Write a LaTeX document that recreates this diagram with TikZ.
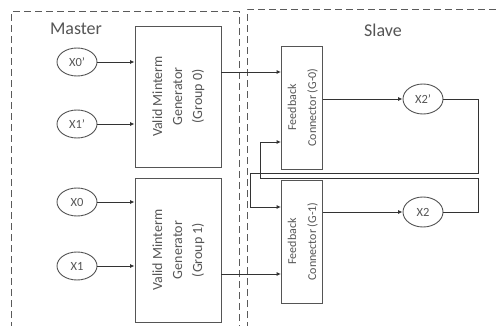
\documentclass[tikz,border=0pt]{standalone}
\usepackage{fontspec}
\setmainfont{Carlito}
\usepackage{graphicx}
\usetikzlibrary{arrows.meta,shapes.geometric}
\definecolor{framegray}{HTML}{5A5A5A}
\definecolor{linegray}{HTML}{333333}
\definecolor{boxgray}{HTML}{555555}
\definecolor{textgray}{HTML}{555555}
% vertical (bottom-to-top) multi-line label
\newcommand\vlabel[2]{\rotatebox{90}{\fontsize{#1}{20}\selectfont\begin{tabular}{@{}c@{}}#2\end{tabular}}}
\begin{document}
\begin{tikzpicture}[x=1pt,y=-1pt,
  frame/.style={draw=framegray,line width=1pt,dash pattern=on 7pt off 4pt},
  blockbox/.style={draw=boxgray,line width=0.9pt,inner sep=0pt,fill=white,text=textgray},
  var/.style={ellipse,draw=boxgray,line width=0.9pt,minimum width=40pt,minimum height=28pt,
              inner sep=0pt,text=textgray,font=\fontsize{12.5}{14}\selectfont},
  conn/.style={draw=linegray,line width=0.9pt,-{Latex[length=4.5pt,width=4pt]}},
  title/.style={text=textgray,font=\fontsize{18}{22}\selectfont}]
\useasboundingbox (0,0) rectangle (498,326);
\fill[white] (0,0) rectangle (498,326);
\clip (0,0) rectangle (498,326);

% dashed partitions
\draw[frame] (11,340) -- (11,12) -- (239,12) -- (239,340);
\draw[frame] (247,340) -- (247,10) -- (510,10);

\node[title] (master) at (76,29) {Master};
\node[title] (slave) at (383,30) {Slave};

% master side
\node[var] (x0p) at (77,62) {X0'};
\node[var] (x1p) at (77,124) {X1'};
\node[var] (x0) at (77,202) {X0};
\node[var] (x1) at (77,266) {X1};

\node[blockbox,minimum width=86pt,minimum height=141pt] (g0) at (178,96.5)
  {\vlabel{14}{Valid Minterm\\Generator\\(Group 0)}};
\node[blockbox,minimum width=86pt,minimum height=144pt] (g1) at (178,250)
  {\vlabel{14}{Valid Minterm\\Generator\\(Group 1)}};

% slave side
\node[blockbox,minimum width=41pt,minimum height=123pt] (fc0) at (302,107.5)
  {\vlabel{12}{Feedback\\Connector (G-0)}};
\node[blockbox,minimum width=41pt,minimum height=123pt] (fc1) at (302,241.5)
  {\vlabel{12}{Feedback\\Connector (G-1)}};

\node[var,minimum height=30pt] (x2p) at (423,99) {X2'};
\node[var,minimum height=30pt] (x2) at (423,212) {X2};

% inputs
\draw[conn] (x0p) -- (x0p -| g0.west);
\draw[conn] (x1p) -- (x1p -| g0.west);
\draw[conn] (x0) -- (x0 -| g1.west);
\draw[conn] (x1) -- (x1 -| g1.west);

% generator outputs
\coordinate (o0) at (230,72);
\coordinate (o1) at (230,274);
\draw[conn] (g0.east |- o0) -- (fc0.west |- o0);
\draw[conn] (g1.east |- o1) -- (fc1.west |- o1);

% connector outputs
\draw[conn] (fc0.east |- x2p) -- (x2p);
\draw[conn] (fc1.east |- x2) -- (x2);

% feedback loops
\coordinate (ra) at (478,173);
\coordinate (la) at (250,173);
\coordinate (ta) at (250,207);
\draw[conn] (x2p.east) -| (ra) -- (la) -- (ta) -- (fc1.west |- ta);
\coordinate (rb) at (478,178);
\coordinate (lb) at (260,178);
\coordinate (tb) at (260,142);
\draw[conn] (x2.east) -| (rb) -- (lb) -- (tb) -- (fc0.west |- tb);
\end{tikzpicture}
\end{document}
